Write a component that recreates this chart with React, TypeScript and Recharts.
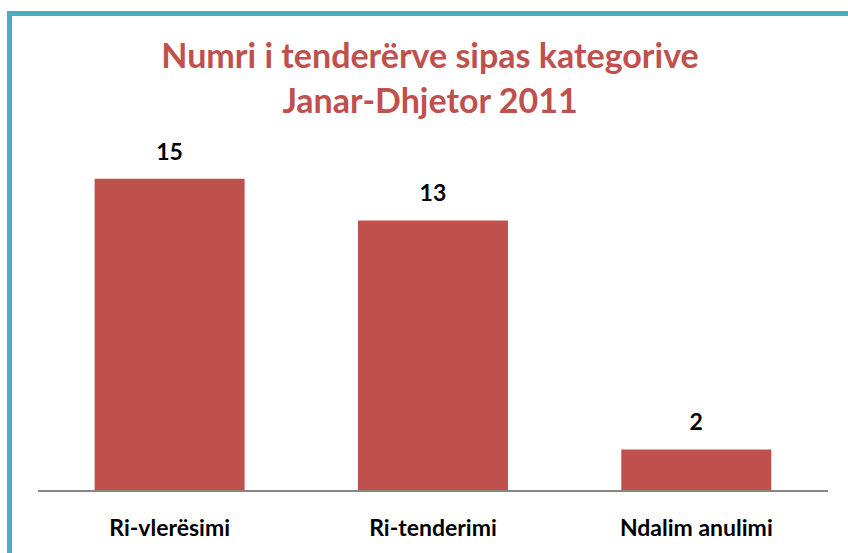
import { Bar, BarChart, LabelList, XAxis, YAxis } from 'recharts';

const kategorite = ['Ri-vlerësimi', 'Ri-tenderimi', 'Ndalim anulimi'];
const tenderet = [15, 13, 2];

const titulli = ['Numri i tenderërve sipas kategorive', 'Janar-Dhjetor 2011'];

const data = kategorite.map((emri, i) => ({ emri, numri: tenderet[i] }));

const font = 'Lato, "Open Sans", sans-serif';

export default function App() {
  return (
    <div
      style={{
        position: 'absolute',
        left: 0,
        top: 0,
        width: 848,
        height: 553,
        background: '#fff',
        overflow: 'hidden',
        fontFamily: font,
      }}>
      {/* kornizë blu, vetëm majtas dhe lart */}
      <div
        style={{
          position: 'absolute',
          left: 7,
          top: 11,
          width: 900,
          height: 600,
          borderLeft: '5px solid #4BACC6',
          borderTop: '5px solid #4BACC6',
        }}
      />
      <div
        style={{
          position: 'absolute',
          left: 0,
          top: 32,
          width: 860,
          textAlign: 'center',
          color: '#C0504D',
          fontWeight: 'bold',
          fontSize: 34,
          lineHeight: '45px',
        }}>
        {titulli.map((t) => (
          <div key={t}>{t}</div>
        ))}
      </div>
      <div style={{ position: 'absolute', left: 0, top: 0 }}>
        <BarChart
          width={848}
          height={553}
          data={data}
          barCategoryGap="21.5%"
          margin={{ top: 158, right: 20, left: 38, bottom: 22 }}>
          <XAxis
            dataKey="emri"
            height={40}
            axisLine={{ stroke: '#868686', strokeWidth: 2 }}
            tickLine={false}
            tickMargin={23}
            tick={{ fill: '#000', fontSize: 23, fontWeight: 'bold', fontFamily: font }}
          />
          <YAxis hide width={0} domain={[0, 16]} />
          <Bar dataKey="numri" fill="#C0504D" isAnimationActive={false}>
            <LabelList
              dataKey="numri"
              position="top"
              offset={19}
              fill="#000"
              fontSize={23}
              fontWeight="bold"
              fontFamily={font}
            />
          </Bar>
        </BarChart>
      </div>
    </div>
  );
}
